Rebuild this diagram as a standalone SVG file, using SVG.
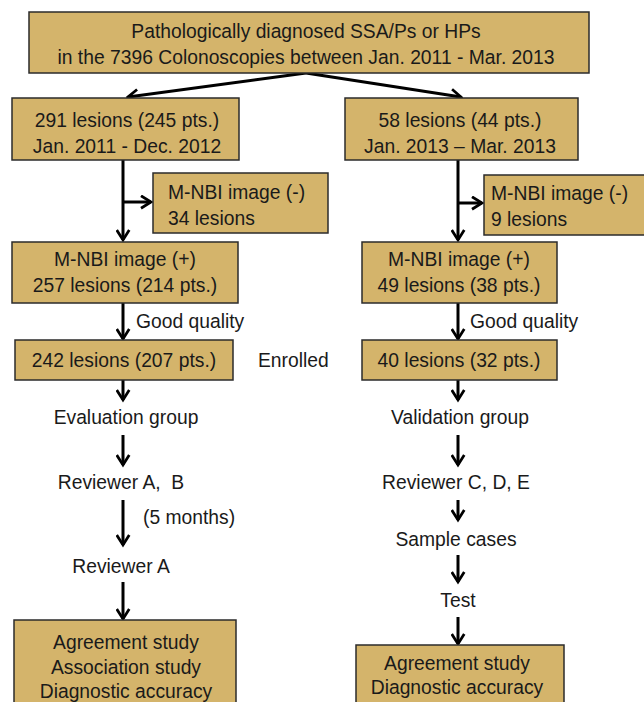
<svg xmlns="http://www.w3.org/2000/svg" width="644" height="702" viewBox="0 0 644 702">
<style>
.box{fill:#D4B46B;stroke:#2b2b2b;stroke-width:1.5}
text{font-family:"Liberation Sans","Open Sans",Arial,sans-serif;font-size:19.3px;fill:#1a1a1a}
.c{text-anchor:middle}
.ln{stroke:#000;stroke-width:3;fill:none;marker-end:url(#ah)}
</style>
<defs>
<marker id="ah" viewBox="0 0 12 12" refX="10" refY="6" markerWidth="5" markerHeight="5" orient="auto" markerUnits="strokeWidth">
<path d="M2,1 L10,6 L2,11" fill="none" stroke="#000" stroke-width="2.2"/>
</marker>
</defs>
<rect width="644" height="702" fill="#fff"/>
<g id="connectors">
<path class="ln" d="M306,73 L128,97"/>
<path class="ln" d="M306,73 L461,97"/>
<path class="ln" d="M123,160 L123,240"/>
<path class="ln" d="M123,202 L151,202"/>
<path class="ln" d="M458,160 L458,240"/>
<path class="ln" d="M458,203 L482,203"/>
<path class="ln" d="M123,303 L123,339"/>
<path class="ln" d="M458,303 L458,339"/>
<path class="ln" d="M123,380 L123,400"/>
<path class="ln" d="M458,380 L458,400"/>
<path class="ln" d="M123,435 L123,465"/>
<path class="ln" d="M458,435 L458,465"/>
<path class="ln" d="M123,500 L123,545"/>
<path class="ln" d="M458,500 L458,520"/>
<path class="ln" d="M123,582 L123,619"/>
<path class="ln" d="M458,555 L458,582"/>
<path class="ln" d="M458,617 L458,644"/>
</g>
<g id="top">
<rect class="box" x="29" y="12" width="560" height="61"/>
<text class="c" x="306" y="38">Pathologically diagnosed SSA/Ps or HPs</text>
<text class="c" x="306" y="64">in the 7396 Colonoscopies between Jan. 2011 - Mar. 2013</text>
</g>
<g id="left1">
<rect class="box" x="12" y="98" width="227" height="62"/>
<text class="c" x="127" y="127">291 lesions (245 pts.)</text>
<text class="c" x="127" y="153">Jan. 2011 - Dec. 2012</text>
</g>
<g id="right1">
<rect class="box" x="345" y="98" width="233" height="62"/>
<text class="c" x="460" y="127">58 lesions (44 pts.)</text>
<text class="c" x="460" y="153">Jan. 2013 – Mar. 2013</text>
</g>
<g id="leftneg">
<rect class="box" x="153" y="173" width="175" height="60"/>
<text x="168" y="199">M-NBI image (-)</text>
<text x="168" y="225">34 lesions</text>
</g>
<g id="rightneg">
<rect class="box" x="484" y="175" width="170" height="60"/>
<text x="491" y="200">M-NBI image (-)</text>
<text x="491" y="226">9 lesions</text>
</g>
<g id="left2">
<rect class="box" x="12" y="242" width="226" height="61"/>
<text class="c" x="125" y="266">M-NBI image (+)</text>
<text class="c" x="125" y="292">257 lesions (214 pts.)</text>
</g>
<g id="right2">
<rect class="box" x="362" y="242" width="195" height="61"/>
<text class="c" x="459" y="266">M-NBI image (+)</text>
<text class="c" x="459" y="292">49 lesions (38 pts.)</text>
</g>
<g id="gq">
<text x="136" y="328">Good quality</text>
<text x="470" y="328">Good quality</text>
</g>
<g id="left3">
<rect class="box" x="15" y="340" width="218" height="40"/>
<text class="c" x="124" y="367">242 lesions (207 pts.)</text>
</g>
<text x="258" y="367">Enrolled</text>
<g id="right3">
<rect class="box" x="362" y="340" width="195" height="40"/>
<text class="c" x="459" y="367">40 lesions (32 pts.)</text>
</g>
<g id="evalgroup"><text class="c" x="126" y="424">Evaluation group</text></g>
<g id="revAB"><text class="c" x="121" y="489">Reviewer A,&#160; B</text></g>
<text x="143" y="524">(5 months)</text>
<g id="revA"><text class="c" x="121" y="573">Reviewer A</text></g>
<g id="leftfinal">
<rect class="box" x="14" y="620" width="222" height="90"/>
<text class="c" x="126" y="649">Agreement study</text>
<text class="c" x="126" y="674">Association study</text>
<text class="c" x="126" y="698">Diagnostic accuracy</text>
</g>
<g id="valgroup"><text class="c" x="460" y="424">Validation group</text></g>
<g id="revCDE"><text class="c" x="456" y="489">Reviewer C, D, E</text></g>
<g id="sample"><text class="c" x="456" y="546">Sample cases</text></g>
<g id="test"><text class="c" x="458" y="607">Test</text></g>
<g id="rightfinal">
<rect class="box" x="356" y="645" width="208" height="65"/>
<text class="c" x="457" y="670">Agreement study</text>
<text class="c" x="457" y="694">Diagnostic accuracy</text>
</g>
</svg>
